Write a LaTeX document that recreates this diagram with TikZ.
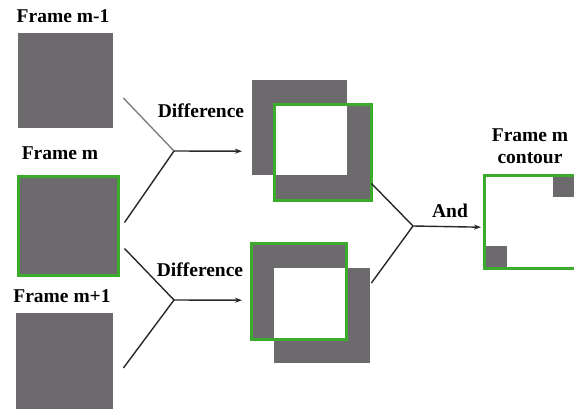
\documentclass[tikz,border=0pt]{standalone}
\usepackage{fontspec}
\setmainfont{Liberation Serif}
\usetikzlibrary{arrows.meta}
\definecolor{fgray}{RGB}{108,106,108}
\definecolor{fgreen}{RGB}{60,170,45}
\definecolor{lineblk}{RGB}{40,40,40}
\tikzset{
  lbl/.style={font=\bfseries\fontsize{19.5}{22}\selectfont, inner sep=0pt, anchor=base},
  framebox/.style={fill=fgray, draw=none, inner sep=0pt, anchor=north west},
  conn/.style={draw=lineblk, line width=1.4pt},
  arr/.style={conn, -{Stealth[length=7pt,width=5pt]}},
  gline/.style={draw=fgreen, line width=3pt},
}
\begin{document}
\begin{tikzpicture}[x=1pt,y=-1pt]
\useasboundingbox (0,0) rectangle (574,408);
\clip (0,0) rectangle (574,408);
% input frames
\node[framebox, minimum width=95pt, minimum height=95pt] (fm1) at (18,33) {};
\node[framebox, minimum width=100pt, minimum height=99pt, draw=fgreen, line width=3pt] (fm) at (16.5,174.5) {};
\node[framebox, minimum width=97pt, minimum height=100pt] (fp1) at (16,313) {};
\node[lbl] (tm1) at (63,22) {Frame m-1};
\node[lbl] (tm) at (60,159) {Frame m};
\node[lbl] (tp1) at (62,302) {Frame m+1};
% upper difference image
\fill[fgray] (252,80) rectangle (347,175);
\fill[fgray] (273,103) rectangle (373,202);
\fill[white] (276,106) rectangle (347,175);
\draw[gline] (274.5,104.5) rectangle (371.5,200.5);
\node[inner sep=0pt, minimum width=121pt, minimum height=122pt, anchor=north west] (d1) at (252,80) {};
% lower difference image
\fill[fgray] (250,242) rectangle (348,341);
\fill[fgray] (274,268) rectangle (370,363);
\fill[white] (274,268) rectangle (346,339);
\draw[gline] (251.5,243.5) rectangle (346.5,339.5);
\node[inner sep=0pt, minimum width=120pt, minimum height=121pt, anchor=north west] (d2) at (250,242) {};
% contour image
\fill[fgray] (553,174) rectangle (574,197);
\fill[fgray] (483,246) rectangle (507,270);
\draw[gline] (484.5,175.5) rectangle (578,268.5);
\node[inner sep=0pt, minimum width=91pt, minimum height=96pt, anchor=north west] (ct) at (483,174) {};
\node[lbl] (tc1) at (530,141) {Frame m};
\node[lbl] (tc2) at (530,163) {contour};
% junctions and connectors
\coordinate (j1) at (174,151);
\coordinate (j2) at (174,300);
\coordinate (j3) at (413,226);
\draw[conn, draw=gray] ([xshift=10pt,yshift=-65pt]fm1.north east) -- (j1);
\draw[conn] ([xshift=5pt,yshift=-48pt]fm.north east) -- (j1);
\draw[arr] (j1) -- ([xshift=-10pt,yshift=-10pt]d1.west);
\draw[conn] ([xshift=5pt,yshift=-74pt]fm.north east) -- (j2);
\draw[conn] ([xshift=10pt,yshift=-55pt]fp1.north east) -- (j2);
\draw[arr] (j2) -- ([xshift=-8pt,yshift=2.5pt]d2.west);
\draw[conn] ([xshift=-2pt,yshift=19pt]d1.south east) -- (j3);
\draw[conn] ([xshift=1pt,yshift=-41pt]d2.north east) -- (j3);
\draw[arr] (j3) -- ([xshift=-2pt,yshift=-5pt]ct.west);
\node[lbl] (td1) at (201,117) {Difference};
\node[lbl] (td2) at (200,276) {Difference};
\node[lbl] (tand) at (450,217) {And};
\end{tikzpicture}
\end{document}
